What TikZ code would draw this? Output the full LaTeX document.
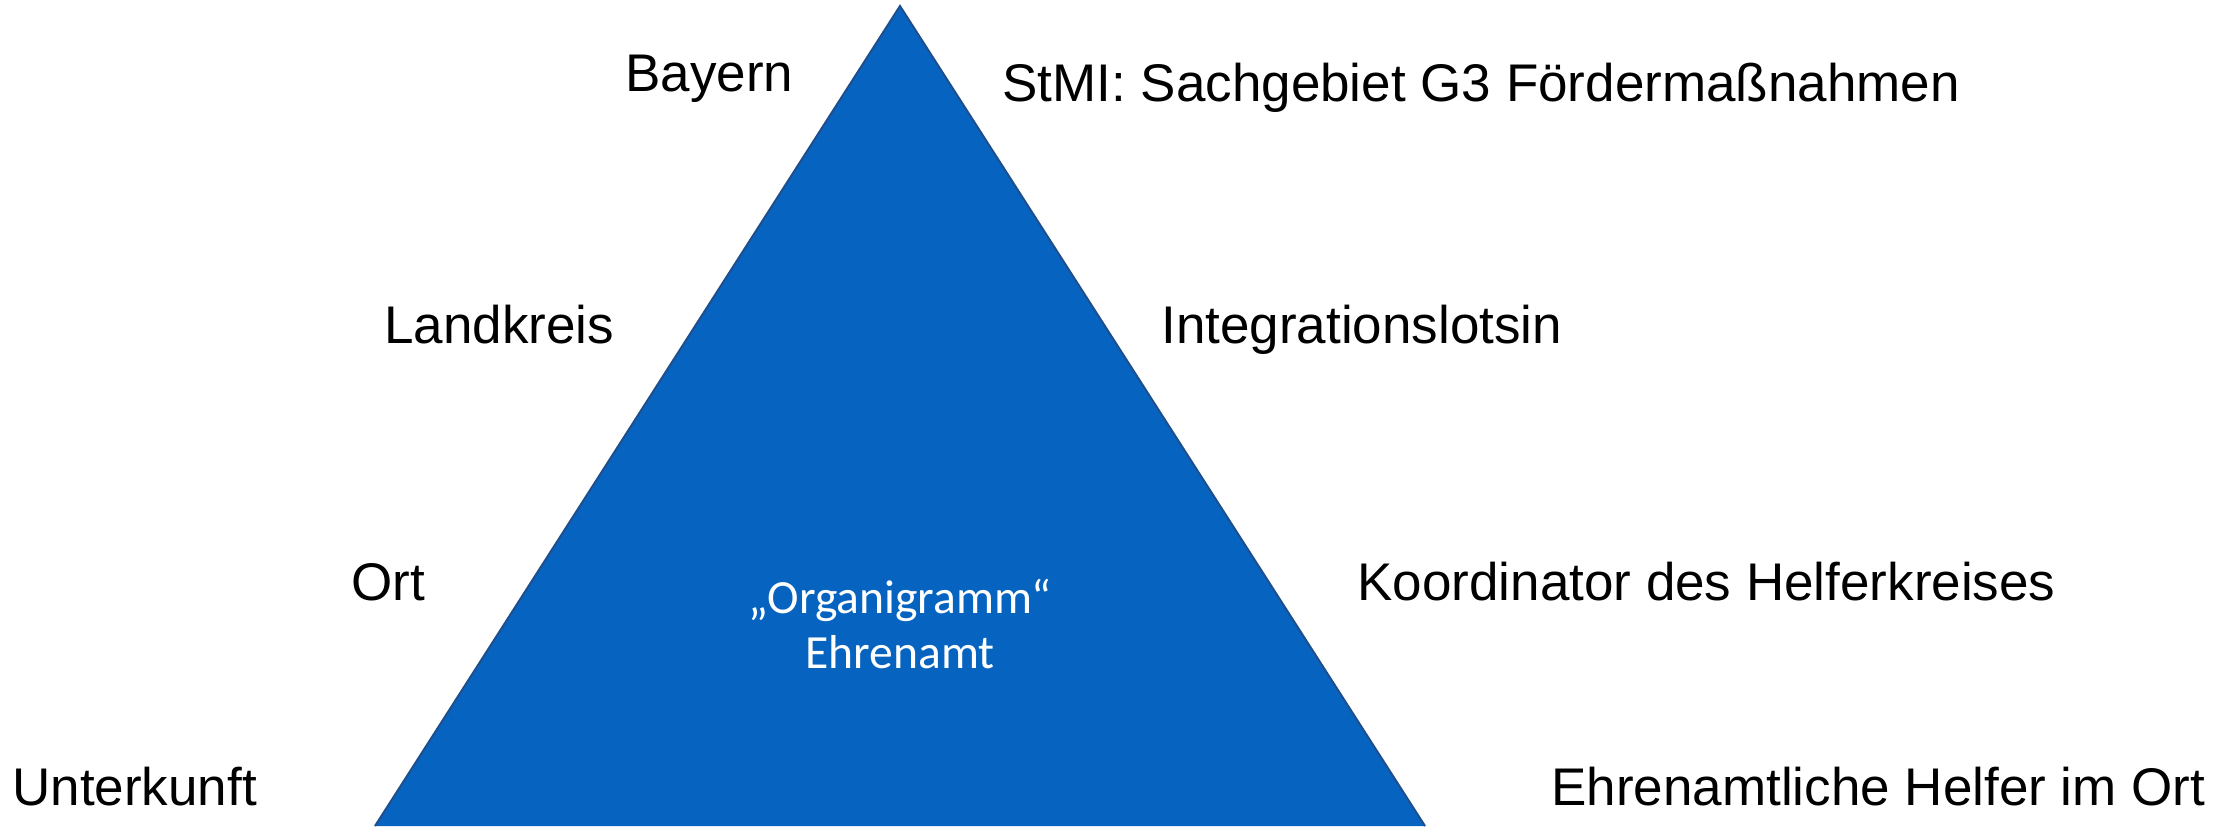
\documentclass[tikz,border=0pt]{standalone}
\usepackage{fontspec}
\setmainfont{Liberation Sans}
\newfontfamily\calib{Carlito}
\definecolor{trifill}{RGB}{6,100,192}
\definecolor{triedge}{RGB}{30,78,140}
\begin{document}
\begin{tikzpicture}[x=0.5pt,y=-0.5pt,
  lbl/.style={anchor=base west,inner sep=0pt,font=\fontsize{26.5pt}{32pt}\selectfont,text=black},
  inner/.style={align=center,inner sep=0pt,text=white,font=\calib\fontsize{23.8pt}{27.5pt}\selectfont}]
\useasboundingbox (0,0) rectangle (2239,826);
\coordinate (apex) at (900,6);
\coordinate (bl) at (375,826);
\coordinate (br) at (1425,826);
\fill[trifill] (apex) -- (br) -- (bl) -- cycle;
\draw[triedge,line width=1pt] (bl) -- (apex) -- (br);
\node[lbl] (bayern) at (625,91) {Bayern};
\node[lbl] (stmi) at (1002,101) {StMI: Sachgebiet G3 Fördermaßnahmen};
\node[lbl] (landkreis) at (384,343) {Landkreis};
\node[lbl] (lotsin) at (1161,343) {Integrationslotsin};
\node[lbl] (ort) at (351,600) {Ort};
\node[lbl] (koord) at (1357,600) {Koordinator des Helferkreises};
\node[lbl] (unterkunft) at (12,805) {Unterkunft};
\node[lbl] (helfer) at (1551,805) {Ehrenamtliche Helfer im Ort};
\node[inner,anchor=base] (org) at (900,668) {„Organigramm“\\Ehrenamt};
\end{tikzpicture}
\end{document}
